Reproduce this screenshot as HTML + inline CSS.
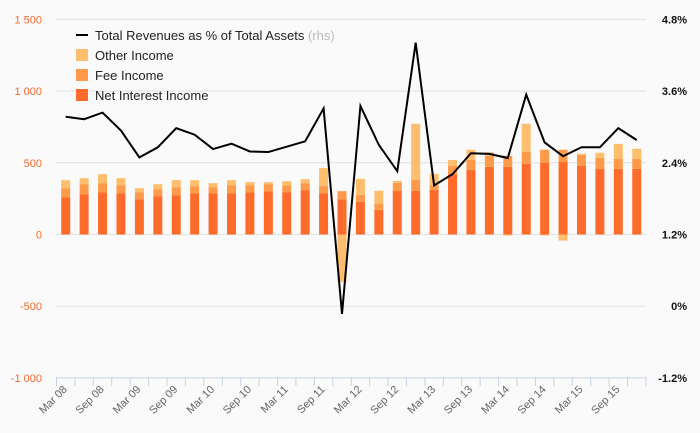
<!DOCTYPE html>
<html><head><meta charset="utf-8"><style>
body{margin:0;background:#fafafa;}
svg{display:block;font-family:"Liberation Sans",sans-serif;}
</style></head><body>
<svg id="c" width="700" height="433"></svg>
<script>
const categories=["Mar 08","Jun 08","Sep 08","Dec 08","Mar 09","Jun 09","Sep 09","Dec 09","Mar 10","Jun 10","Sep 10","Dec 10","Mar 11","Jun 11","Sep 11","Dec 11","Mar 12","Jun 12","Sep 12","Dec 12","Mar 13","Jun 13","Sep 13","Dec 13","Mar 14","Jun 14","Sep 14","Dec 14","Mar 15","Jun 15","Sep 15","Dec 15"];
const netInterest=[260,281,295,288,246,267,274,288,288,288,295,302,295,309,288,246,228,172,305,305,312,420,451,472,472,493,500,507,479,458,458,458];
const feeIncome=[63,70,63,56,49,49,56,49,42,56,49,49,49,49,49,56,49,42,55,76,30,60,70,77,77,84,91,84,77,77,70,70];
const otherIncome=[56,42,63,49,28,35,49,42,28,35,21,14,28,28,126,-330,111,91,14,391,80,40,70,25,-7,195,-7,-42,7,35,104,70];
const revPct=[3.17,3.13,3.24,2.94,2.49,2.66,2.98,2.87,2.63,2.72,2.59,2.58,2.67,2.76,3.31,-0.13,3.35,2.70,2.26,4.41,2.02,2.21,2.56,2.55,2.48,3.54,2.74,2.51,2.66,2.66,2.98,2.78];
const leftTicks=[-1000,-500,0,500,1000,1500];
const leftTickLabels=["-1 000","-500","0","500","1 000","1 500"];
const rightTicks=[-1.2,0,1.2,2.4,3.6,4.8];
const rightTickLabels=["-1.2%","0%","1.2%","2.4%","3.6%","4.8%"];
const NS="http://www.w3.org/2000/svg";
const svg=document.getElementById('c');
const x0=56.5,step=18.42,bw=9;
const yL=v=>234.5-v*71.7/500;
const yR=v=>306.2-v*59.75;
const xC=i=>x0+step*(i+0.5);
function mk(t,a,p){const e=document.createElementNS(NS,t);for(const k in a)e.setAttribute(k,a[k]);(p||svg).appendChild(e);return e;}
leftTicks.forEach((v,i)=>{
  const g=mk('line',{x1:56,x2:646,y1:yL(v),y2:yL(v),stroke:v===-1000?'#c5d3e6':'#e2e2e2','stroke-width':1});
  
  
  const t=mk('text',{x:42,y:yL(v)+4,'text-anchor':'end','font-size':11,fill:'#f4692d'});
  t.textContent=leftTickLabels[i];
  
  
});
rightTicks.forEach((v,i)=>{
  const t=mk('text',{x:687,y:yR(v)+4,'text-anchor':'end','font-size':11,'font-weight':'bold',fill:'#111'});
  t.textContent=rightTickLabels[i];
  
  
});
for(let i=0;i<=categories.length;i++){
  const tk=mk('line',{x1:x0+step*i,x2:x0+step*i,y1:377,y2:386,stroke:'#c5d3e6'});
  
  
}
categories.forEach((c,i)=>{
  if(i%2)return;
  const x=xC(i)+2,y=390;
  const t=mk('text',{x:x,y:y,'text-anchor':'end','font-size':11,fill:'#666',transform:`rotate(-45 ${x} ${y})`});
  t.textContent=c;
  
  
});
function bar(i,a,b,col,name){
  const y1=yL(Math.max(a,b)),y2=yL(Math.min(a,b));
  const r=mk('rect',{x:xC(i)-bw/2,y:y1,width:bw,height:Math.max(0,y2-y1),fill:col});
  
  
}
categories.forEach((c,i)=>{
  const n=netInterest[i],f=feeIncome[i],o=otherIncome[i];
  bar(i,0,n,'#ff6b2b','bar-net-interest');
  bar(i,n,n+f,'#ff9a4a','bar-fee');
  if(o>=0)bar(i,n+f,n+f+o,'#ffbe6d','bar-other');
  else bar(i,0,o,'#ffbe6d','bar-other');
});
const pts=revPct.map((v,i)=>xC(i)+','+yR(v)).join(' ');
const pl=mk('polyline',{points:pts,fill:'none',stroke:'#000','stroke-width':2,'stroke-linejoin':'miter'});


const lg=mk('g',{});


const l0=mk('line',{x1:76,x2:88,y1:35,y2:35,stroke:'#000','stroke-width':2},lg);


const t0=mk('text',{x:95,y:40,'font-size':13,fill:'#222'},lg);
t0.innerHTML='Total Revenues as % of Total Assets <tspan fill="#bbb">(rhs)</tspan>';


[['Other Income','#ffbe6d'],['Fee Income','#ff9a4a'],['Net Interest Income','#ff6b2b']].forEach((e,k)=>{
  const yy=55+k*20;
  const s=mk('rect',{x:76,y:yy-6,width:12,height:12,fill:e[1]},lg);
  
  
  const t=mk('text',{x:95,y:yy+5,'font-size':13,fill:'#222'},lg);
  t.textContent=e[0];
  
  
});
</script>
</body></html>
